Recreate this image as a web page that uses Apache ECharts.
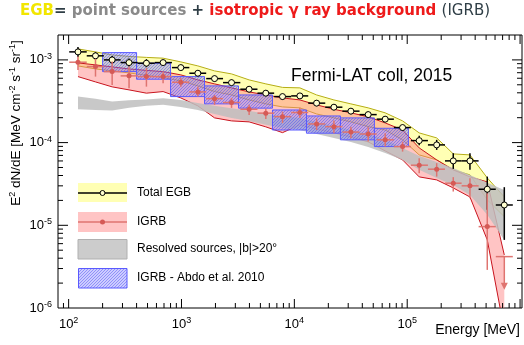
<!DOCTYPE html>
<html>
<head>
<meta charset="utf-8">
<script src="https://cdn.jsdelivr.net/npm/echarts@6/dist/echarts.min.js"></script>
<style>
html, body { margin: 0; padding: 0; background: #fff; }
#main { width: 524px; height: 345px; }
</style>
</head>
<body>
<div id="main"></div>
<script>
// bin centres [MeV]
var energy = [121, 173, 243, 343, 489, 687, 986, 1396, 1963, 2775, 3974, 5585, 7852, 11190,
    15740, 22410, 31690, 45110, 63800, 90970, 127700, 182400, 255900, 359600, 512100, 724800];

// total EGB, E^2 dN/dE [MeV cm^-2 s^-1 sr^-1]
var egb = [1.25e-3, 1.12e-3, 1.0e-3, 9.28e-4, 9.12e-4, 9.28e-4, 8.07e-4, 6.90e-4, 5.94e-4, 5.31e-4,
    4.42e-4, 3.96e-4, 3.60e-4, 3.67e-4, 3.00e-4, 2.68e-4, 2.40e-4, 2.18e-4, 1.92e-4, 1.52e-4,
    1.057e-4, 9.38e-5, 6.01e-5, 6.01e-5, 2.73e-5, 1.76e-5];
var egbHi = [1.436e-3, 1.249e-3, 1.118e-3, 1.037e-3, 1.020e-3, 1.008e-3, 8.77e-4, 7.51e-4, 6.46e-4, 5.78e-4,
    4.81e-4, 4.30e-4, 3.91e-4, 3.98e-4, 3.26e-4, 2.91e-4, 2.61e-4, 2.37e-4, 2.09e-4, 1.65e-4,
    1.21e-4, 1.08e-4, 7.44e-5, 7.44e-5, 3.88e-5, 2.89e-5];
var egbLo = [1.087e-3, 1.0e-3, 8.95e-4, 8.30e-4, 8.16e-4, 8.53e-4, 7.42e-4, 6.35e-4, 5.46e-4, 4.89e-4,
    4.07e-4, 3.64e-4, 3.31e-4, 3.38e-4, 2.75e-4, 2.46e-4, 2.20e-4, 2.00e-4, 1.76e-4, 1.40e-4,
    9.27e-5, 8.16e-5, 4.81e-5, 4.68e-5, 1.54e-5, 6.66e-6];

// IGRB (last bin is an upper limit)
var igrb = [9.38e-4, 8.30e-4, 7.22e-4, 6.41e-4, 6.28e-4, 6.28e-4, 5.37e-4, 4.10e-4, 3.40e-4, 3.05e-4,
    2.53e-4, 2.27e-4, 2.06e-4, 2.31e-4, 1.68e-4, 1.56e-4, 1.34e-4, 1.27e-4, 1.08e-4, 8.95e-5,
    5.33e-5, 4.77e-5, 3.23e-5, 3.00e-5, 9.64e-6, 4.18e-6];
var igrbHi = [1.096e-3, 1.028e-3, 9.54e-4, 8.30e-4, 8.00e-4, 7.22e-4, 6.06e-4, 4.75e-4, 3.77e-4, 3.47e-4,
    2.86e-4, 2.56e-4, 2.37e-4, 2.63e-4, 1.97e-4, 1.85e-4, 1.56e-4, 1.535e-4, 1.30e-4, 1.028e-4,
    6.48e-5, 5.64e-5, 3.82e-5, 3.71e-5, 2.44e-5, 4.18e-6];
var igrbLo = [7.57e-4, 6.28e-4, 4.98e-4, 4.55e-4, 4.75e-4, 5.23e-4, 4.72e-4, 3.60e-4, 2.86e-4, 2.63e-4,
    2.16e-4, 1.935e-4, 1.72e-4, 1.99e-4, 1.42e-4, 1.30e-4, 1.13e-4, 1.028e-4, 8.95e-5, 7.78e-5,
    4.27e-5, 3.88e-5, 2.56e-5, 2.13e-5, 2.89e-6, 4.18e-6];
var igrbUpperLimit = [25];

// systematic bands
var egbBandHi = [1.358e-3, 1.249e-3, 1.149e-3, 1.102e-3, 1.072e-3, 1.049e-3, 9.46e-4, 8.46e-4, 7.36e-4, 6.77e-4,
    5.73e-4, 5.13e-4, 4.65e-4, 4.59e-4, 3.77e-4, 3.28e-4, 2.94e-4, 2.63e-4, 2.29e-4, 1.83e-4,
    1.31e-4, 1.14e-4, 7.30e-5, 7.10e-5, 3.74e-5, 2.20e-5];
var egbBandLo = [8.46e-4, 7.78e-4, 7.36e-4, 6.96e-4, 6.50e-4, 6.11e-4, 5.57e-4, 4.85e-4, 4.14e-4, 3.77e-4,
    3.28e-4, 2.94e-4, 2.70e-4, 2.63e-4, 2.22e-4, 1.99e-4, 1.78e-4, 1.56e-4, 1.42e-4, 1.08e-4,
    7.10e-5, 6.18e-5, 4.68e-5, 4.07e-5, 2.03e-5, 1.27e-5];
var igrbBandHi = [9.20e-4, 8.70e-4, 8.23e-4, 7.78e-4, 7.46e-4, 7.22e-4, 6.59e-4, 5.73e-4, 5.13e-4, 4.59e-4,
    4.10e-4, 3.77e-4, 3.47e-4, 3.28e-4, 2.86e-4, 2.53e-4, 2.29e-4, 2.05e-4, 1.73e-4, 1.42e-4,
    8.63e-5, 6.18e-5, 4.68e-5, 3.85e-5, 3.35e-5, 4.38e-6];
var igrbBandLo = [6.28e-4, 5.42e-4, 4.72e-4, 4.34e-4, 3.96e-4, 4.14e-4, 3.47e-4, 2.78e-4, 1.99e-4, 1.83e-4,
    1.78e-4, 1.55e-4, 1.32e-4, 1.64e-4, 1.46e-4, 1.31e-4, 1.17e-4, 1.02e-4, 7.93e-5, 6.18e-5,
    3.85e-5, 3.54e-5, 2.83e-5, 2.20e-5, 6.66e-6, 5.4e-7];
var resolvedHi = [3.60e-4, 3.38e-4, 3.13e-4, 3.24e-4, 3.33e-4, 3.44e-4, 3.28e-4, 3.02e-4, 2.78e-4, 2.61e-4,
    2.42e-4, 2.22e-4, 2.10e-4, 1.99e-4, 1.78e-4, 1.59e-4, 1.42e-4, 1.27e-4, 1.08e-4, 8.63e-5,
    6.90e-5, 5.84e-5, 4.94e-5, 4.07e-5, 3.26e-5, 2.68e-5];
var resolvedLo = [2.53e-4, 2.48e-4, 2.44e-4, 2.63e-4, 2.78e-4, 2.86e-4, 2.70e-4, 2.48e-4, 2.22e-4, 1.99e-4,
    1.83e-4, 1.64e-4, 1.50e-4, 1.42e-4, 1.27e-4, 1.14e-4, 1.02e-4, 8.87e-5, 7.50e-5, 6.18e-5,
    4.68e-5, 3.74e-5, 3.08e-5, 2.33e-5, 1.34e-5, 6.66e-6];

// IGRB - Abdo et al. 2010 (bin edges and boxes)
var abdoEdges = [200, 400, 800, 1600, 3200, 6400, 12800, 25600, 51200, 102400];
var abdoHi = [1.225e-3, 9.12e-4, 6.28e-4, 4.85e-4, 3.77e-4, 2.48e-4, 2.10e-4, 1.99e-4, 1.49e-4];
var abdoLo = [7.22e-4, 5.84e-4, 3.60e-4, 2.94e-4, 2.61e-4, 1.42e-4, 1.30e-4, 1.08e-4, 8.95e-5];

// axis ticks
var xMajor = [100, 1000, 10000, 100000];
var xLabels = ['10{s|2}', '10{s|3}', '10{s|4}', '10{s|5}'];
var yLabels = ['10{s|-6}', '10{s|-5}', '10{s|-4}', '10{s|-3}'];

var FONT = 'Liberation Sans, Arial, sans-serif';
var chart = echarts.init(document.getElementById('main'));

// diagonal hatch for the Abdo boxes
function hatch() {
    var c = document.createElement('canvas');
    c.width = 3; c.height = 3;
    var g = c.getContext('2d');
    g.fillStyle = 'rgba(120,120,255,0.38)';
    g.fillRect(0, 0, 3, 3);
    g.strokeStyle = 'rgba(70,70,240,0.45)';
    g.lineWidth = 1;
    g.beginPath(); g.moveTo(0, 3); g.lineTo(3, 0); g.stroke();
    return c;
}
var hatchFill = { image: hatch(), repeat: 'repeat' };

function binEdges(i) {
    var n = energy.length, e = energy[i];
    var l = i > 0 ? Math.sqrt(energy[i - 1] * e) : e * Math.sqrt(e / energy[1]);
    var r = i < n - 1 ? Math.sqrt(energy[i + 1] * e) : e * Math.sqrt(e / energy[n - 2]);
    return [l, r];
}

function band(hi, lo, fill, edge, z) {
    return {
        type: 'custom', clip: true, z: z, silent: true,
        data: [[energy[0], hi[0]]],
        renderItem: function (params, api) {
            var top = energy.map(function (e, i) { return api.coord([e, hi[i]]); });
            var bot = energy.map(function (e, i) { return api.coord([e, lo[i]]); });
            var kids = [{ type: 'polygon', shape: { points: top.concat(bot.slice().reverse()) },
                style: { fill: fill, stroke: null } }];
            if (edge) {
                kids.push({ type: 'polyline', shape: { points: top }, style: { stroke: edge, lineWidth: 1, fill: null } });
                kids.push({ type: 'polyline', shape: { points: bot }, style: { stroke: edge, lineWidth: 1, fill: null } });
            }
            return { type: 'group', children: kids };
        }
    };
}

function errors(vals, hi, lo, color, z, ul) {
    return {
        type: 'custom', clip: true, z: z, silent: true,
        data: vals.map(function (v, i) { return [energy[i], v, i]; }),
        renderItem: function (params, api) {
            var i = api.value(2);
            var ed = binEdges(i);
            var pl = api.coord([ed[0], vals[i]]), pr = api.coord([ed[1], vals[i]]);
            var kids = [{ type: 'line', shape: { x1: pl[0], y1: pl[1], x2: pr[0], y2: pr[1] },
                style: { stroke: color, lineWidth: 1.5 } }];
            var c = api.coord([energy[i], vals[i]]);
            if (ul && ul.indexOf(i) >= 0) {
                kids.push({ type: 'line', shape: { x1: c[0], y1: c[1], x2: c[0], y2: c[1] + 28 },
                    style: { stroke: color, lineWidth: 1.5 } });
                kids.push({ type: 'polygon', shape: { points: [[c[0] - 3.5, c[1] + 26], [c[0] + 3.5, c[1] + 26], [c[0], c[1] + 33]] },
                    style: { fill: color } });
            } else {
                var ph = api.coord([energy[i], hi[i]]), plo = api.coord([energy[i], lo[i]]);
                kids.push({ type: 'line', shape: { x1: c[0], y1: ph[1], x2: c[0], y2: plo[1] },
                    style: { stroke: color, lineWidth: 1.5 } });
            }
            return { type: 'group', children: kids };
        }
    };
}

// minor + major ticks on all four sides
var tickSeries = {
    type: 'custom', z: 20, silent: true,
    data: [[energy[0], egb[0]]],
    renderItem: function (params, api) {
        var cs = params.coordSys, kids = [];
        var x0 = cs.x, x1 = cs.x + cs.width, y0 = cs.y, y1 = cs.y + cs.height;
        for (var d = 1; d <= 6; d++) {
            for (var k = 1; k <= 9; k++) {
                var e = k * Math.pow(10, d);
                var px = api.coord([e, 1e-5])[0];
                if (px <= x0 + 0.5 || px >= x1 - 0.5) continue;
                var L = k === 1 ? 9 : 5;
                kids.push({ type: 'line', shape: { x1: px, y1: y1, x2: px, y2: y1 - L }, style: { stroke: '#000', lineWidth: 1 } });
                kids.push({ type: 'line', shape: { x1: px, y1: y0, x2: px, y2: y0 + L }, style: { stroke: '#000', lineWidth: 1 } });
            }
        }
        for (var p = -6; p <= -3; p++) {
            for (var m = 1; m <= 9; m++) {
                var f = m * Math.pow(10, p);
                var py = api.coord([1000, f])[1];
                if (py <= y0 + 0.5 || py >= y1 - 0.5) continue;
                var Ly = m === 1 ? 10 : 5;
                kids.push({ type: 'line', shape: { x1: x0, y1: py, x2: x0 + Ly, y2: py }, style: { stroke: '#000', lineWidth: 1 } });
                kids.push({ type: 'line', shape: { x1: x1, y1: py, x2: x1 - Ly, y2: py }, style: { stroke: '#000', lineWidth: 1 } });
            }
        }
        return { type: 'group', children: kids };
    }
};

var abdoSeries = {
    type: 'custom', clip: true, z: 5, silent: true,
    data: abdoHi.map(function (v, i) { return [abdoEdges[i], v, i]; }),
    renderItem: function (params, api) {
        var i = api.value(2);
        var a = api.coord([abdoEdges[i], abdoHi[i]]);
        var b = api.coord([abdoEdges[i + 1], abdoLo[i]]);
        return { type: 'rect', shape: { x: a[0], y: a[1], width: b[0] - a[0], height: b[1] - a[1] },
            style: { fill: hatchFill, stroke: '#5a5aff', lineWidth: 1 } };
    }
};

var option = {
    animation: false,
    grid: { left: 58, top: 35, width: 464, height: 273, show: true, borderColor: '#000', borderWidth: 1, backgroundColor: 'transparent' },
    xAxis: {
        type: 'log', logBase: 10, min: 80.5, max: 1.04e6,
        axisLine: { show: false }, axisTick: { show: false }, splitLine: { show: false },
        axisLabel: {
            showMinLabel: false, showMaxLabel: false, margin: 8,
            fontFamily: FONT, fontSize: 13, color: '#000',
            formatter: function (v) {
                var i = xMajor.indexOf(Math.round(v));
                return i >= 0 ? xLabels[i] : '';
            },
            rich: { s: { fontSize: 9, fontFamily: FONT, color: '#000', padding: [0, 0, 7, 0] } }
        }
    },
    yAxis: {
        type: 'log', logBase: 10, min: 1e-6, max: 2e-3,
        axisLine: { show: false }, axisTick: { show: false }, splitLine: { show: false },
        axisLabel: {
            showMinLabel: true, showMaxLabel: false, margin: 6,
            fontFamily: FONT, fontSize: 13, color: '#000',
            formatter: function (v) {
                var p = Math.round(Math.log10(v));
                return (p >= -6 && p <= -3) ? yLabels[p + 6] : '';
            },
            rich: { s: { fontSize: 9, fontFamily: FONT, color: '#000', padding: [0, 0, 7, 0] } }
        }
    },
    series: [
        band(egbBandHi, egbBandLo, '#ffffb4', '#b5ad14', 1),
        band(igrbBandHi, igrbBandLo, 'rgba(255,125,125,0.45)', '#c8141e', 2),
        band(resolvedHi, resolvedLo, 'rgba(190,190,190,0.85)', null, 3),
        abdoSeries,
        errors(egb, egbHi, egbLo, '#000', 6),
        {
            type: 'scatter', z: 7, silent: true,
            data: energy.map(function (e, i) { return [e, egb[i]]; }),
            symbol: 'circle', symbolSize: 6,
            itemStyle: { color: '#ffffd0', borderColor: '#000', borderWidth: 1, opacity: 1 }
        },
        errors(igrb, igrbHi, igrbLo, '#df7470', 8, igrbUpperLimit),
        {
            type: 'scatter', z: 9, silent: true,
            data: energy.map(function (e, i) { return [e, igrb[i]]; }).filter(function (d, i) { return igrbUpperLimit.indexOf(i) < 0; }),
            symbol: 'circle', symbolSize: 5,
            itemStyle: { color: '#d55a56', opacity: 1 }
        },
        tickSeries
    ],
    graphic: [
        // title line
        {
            type: 'text', left: 20, top: 4, z: 50,
            style: {
                text: '{y|EGB}{d|= }{g|point sources }{d|+ }{r|isotropic γ ray background }{n|(IGRB)}',
                rich: {
                    y: { fill: '#f2e600', fontFamily: 'DejaVu Sans', fontSize: 15, fontWeight: 'bold' },
                    d: { fill: '#2f3e46', fontFamily: 'DejaVu Sans', fontSize: 15, fontWeight: 'bold' },
                    g: { fill: '#8a8a8a', fontFamily: 'DejaVu Sans', fontSize: 15, fontWeight: 'bold' },
                    r: { fill: '#ee1a1a', fontFamily: 'DejaVu Sans', fontSize: 15, fontWeight: 'bold' },
                    n: { fill: '#2f3e46', fontFamily: 'DejaVu Sans', fontSize: 15 }
                }
            }
        },
        {
            type: 'text', x: 291, y: 76, z: 50,
            style: { text: 'Fermi-LAT coll, 2015', fontFamily: FONT, fontSize: 17.5, fill: '#000', verticalAlign: 'middle' }
        },
        {
            type: 'text', x: 520, y: 330, z: 50,
            style: { text: 'Energy [MeV]', fontFamily: FONT, fontSize: 14, fill: '#000', align: 'right', verticalAlign: 'middle' }
        },
        {
            type: 'text', x: 16, y: 123, rotation: Math.PI / 2, z: 50,
            style: {
                text: 'E{s|2} dN/dE [MeV cm{s|-2} s{s|-1} sr{s|-1}]', fontFamily: FONT, fontSize: 13.5, fill: '#000',
                align: 'center', verticalAlign: 'middle',
                rich: { s: { fontSize: 9, fontFamily: FONT, fill: '#000', padding: [0, 0, 7, 0] } }
            }
        },
        // legend
        { type: 'rect', shape: { x: 78, y: 183, width: 49, height: 19 }, style: { fill: '#ffffb4' }, z: 50 },
        { type: 'line', shape: { x1: 78, y1: 193, x2: 127, y2: 193 }, style: { stroke: '#000', lineWidth: 1.5 }, z: 51 },
        { type: 'circle', shape: { cx: 102.5, cy: 193, r: 2.5 }, style: { fill: '#ffffd0', stroke: '#000', lineWidth: 1 }, z: 52 },
        { type: 'text', x: 137, y: 193, style: { text: 'Total EGB', fontFamily: FONT, fontSize: 12, fill: '#000', verticalAlign: 'middle' }, z: 50 },
        { type: 'rect', shape: { x: 78, y: 212, width: 49, height: 20 }, style: { fill: '#ffc4c4' }, z: 50 },
        { type: 'line', shape: { x1: 78, y1: 222, x2: 127, y2: 222 }, style: { stroke: '#df7470', lineWidth: 1.5 }, z: 51 },
        { type: 'circle', shape: { cx: 102.5, cy: 222, r: 2.5 }, style: { fill: '#d55a56' }, z: 52 },
        { type: 'text', x: 137, y: 222, style: { text: 'IGRB', fontFamily: FONT, fontSize: 12, fill: '#000', verticalAlign: 'middle' }, z: 50 },
        { type: 'rect', shape: { x: 78, y: 239.5, width: 49, height: 19.5 }, style: { fill: '#cccccc', stroke: '#b0b0b0', lineWidth: 1 }, z: 50 },
        { type: 'text', x: 137, y: 249, style: { text: 'Resolved sources, |b|>20°', fontFamily: FONT, fontSize: 12, fill: '#000', verticalAlign: 'middle' }, z: 50 },
        { type: 'rect', shape: { x: 78.5, y: 268.5, width: 48.5, height: 19.5 }, style: { fill: hatchFill, stroke: '#5a5aff', lineWidth: 1 }, z: 50 },
        { type: 'text', x: 137, y: 278, style: { text: 'IGRB - Abdo et al. 2010', fontFamily: FONT, fontSize: 12, fill: '#000', verticalAlign: 'middle' }, z: 50 }
    ]
};

chart.setOption(option);
</script>
</body>
</html>
